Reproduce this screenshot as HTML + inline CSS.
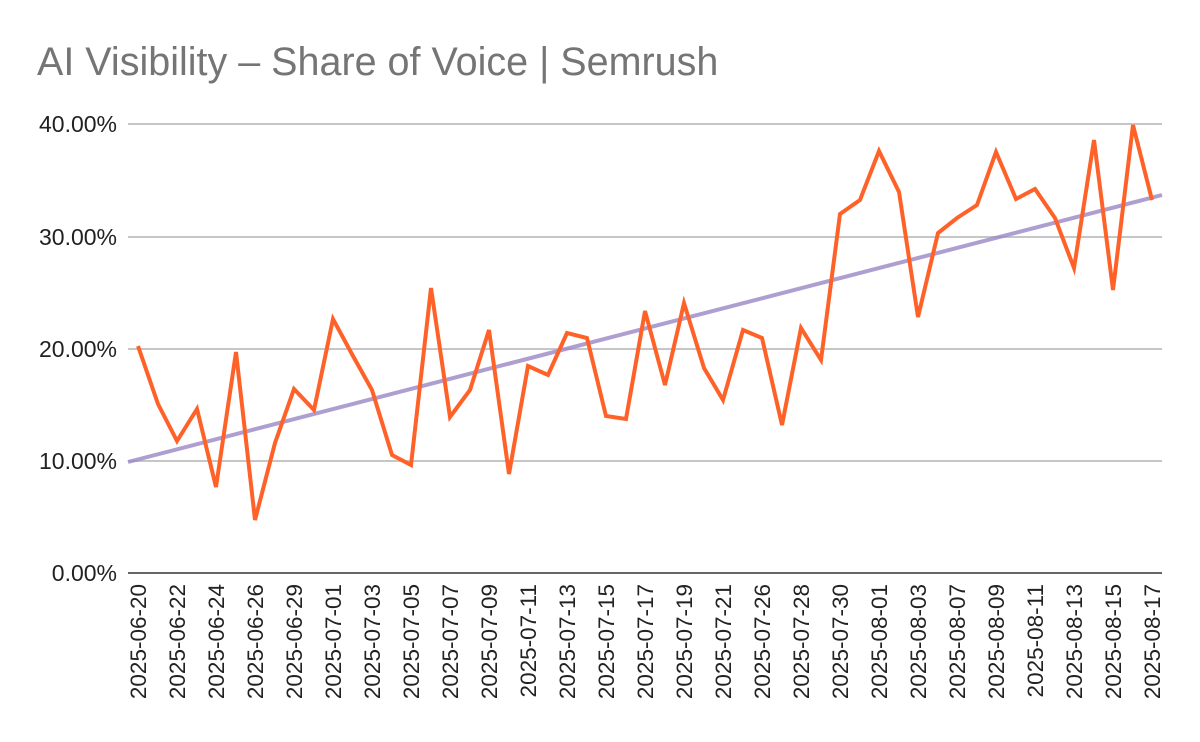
<!DOCTYPE html>
<html><head><meta charset="utf-8"><style>body{margin:0;background:#fff}svg{display:block}</style></head><body>
<svg width="1200" height="742" xmlns="http://www.w3.org/2000/svg" font-family="Liberation Sans, Arial, sans-serif">
<text x="37" y="75" font-size="39.5" fill="#757575">AI Visibility – Share of Voice | Semrush</text>
<g stroke="#c6c6c6" stroke-width="2">
<line x1="128" y1="124" x2="1162" y2="124"/><line x1="128" y1="237" x2="1162" y2="237"/><line x1="128" y1="349" x2="1162" y2="349"/><line x1="128" y1="461" x2="1162" y2="461"/>
</g>
<line x1="128" y1="573" x2="1162" y2="573" stroke="#333" stroke-width="1.5"/>
<g font-size="23" fill="#222" text-anchor="end">
<text x="117" y="132">40.00%</text><text x="117" y="245">30.00%</text><text x="117" y="357">20.00%</text><text x="117" y="469">10.00%</text><text x="117" y="581">0.00%</text>
</g>
<line x1="128" y1="462" x2="1162" y2="195" stroke="#9b86c4" stroke-opacity="0.8" stroke-width="4"/>
<polyline fill="none" stroke="#ff6229" stroke-width="4" stroke-linejoin="miter" points="138,346 158,404 177,441 197,409 216,487 236,352 255,520 275,443 294,389 314,410 333,319 353,356 372,390 392,455 411,465 431,288 450,417 470,390 489,330 509,474 528,366 548,375 567,333 587,338 606,416 626,419 645,311 665,385 684,303 704,368 723,400 743,330 762,338 782,425 801,328 821,360 840,214 860,200 879,151 899,192 918,317 938,233 957,218 977,205 996,152 1016,199 1035,189 1055,218 1074,268 1094,140 1113,290 1133,125 1152,200"/>
<g font-size="22.5" fill="#222" text-anchor="end">
<text transform="translate(146,584) rotate(-90)">2025-06-20</text>
<text transform="translate(185,584) rotate(-90)">2025-06-22</text>
<text transform="translate(224,584) rotate(-90)">2025-06-24</text>
<text transform="translate(263,584) rotate(-90)">2025-06-26</text>
<text transform="translate(302,584) rotate(-90)">2025-06-29</text>
<text transform="translate(341,584) rotate(-90)">2025-07-01</text>
<text transform="translate(380,584) rotate(-90)">2025-07-03</text>
<text transform="translate(419,584) rotate(-90)">2025-07-05</text>
<text transform="translate(458,584) rotate(-90)">2025-07-07</text>
<text transform="translate(497,584) rotate(-90)">2025-07-09</text>
<text transform="translate(536,584) rotate(-90)">2025-07-11</text>
<text transform="translate(575,584) rotate(-90)">2025-07-13</text>
<text transform="translate(614,584) rotate(-90)">2025-07-15</text>
<text transform="translate(653,584) rotate(-90)">2025-07-17</text>
<text transform="translate(692,584) rotate(-90)">2025-07-19</text>
<text transform="translate(731,584) rotate(-90)">2025-07-21</text>
<text transform="translate(770,584) rotate(-90)">2025-07-26</text>
<text transform="translate(809,584) rotate(-90)">2025-07-28</text>
<text transform="translate(848,584) rotate(-90)">2025-07-30</text>
<text transform="translate(887,584) rotate(-90)">2025-08-01</text>
<text transform="translate(926,584) rotate(-90)">2025-08-03</text>
<text transform="translate(965,584) rotate(-90)">2025-08-07</text>
<text transform="translate(1004,584) rotate(-90)">2025-08-09</text>
<text transform="translate(1043,584) rotate(-90)">2025-08-11</text>
<text transform="translate(1082,584) rotate(-90)">2025-08-13</text>
<text transform="translate(1121,584) rotate(-90)">2025-08-15</text>
<text transform="translate(1160,584) rotate(-90)">2025-08-17</text>
</g>
</svg>
</body></html>
